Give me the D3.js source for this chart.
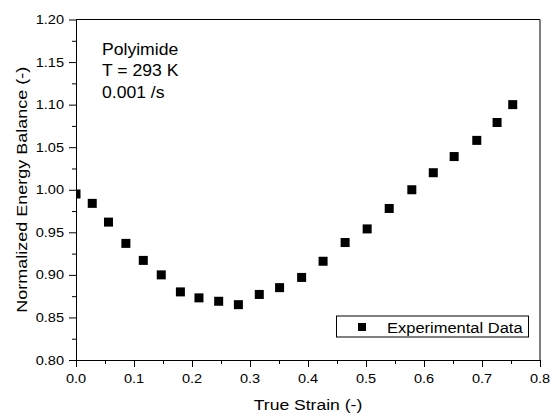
<!DOCTYPE html>
<html>
<head>
<meta charset="utf-8">
<script src="https://cdn.jsdelivr.net/npm/d3@7"></script>
<style>
  body { margin: 0; background: #fff; }
  svg text { font-family: Arial, "Liberation Sans", sans-serif; fill: #000; }
</style>
</head>
<body>
<div id="chart"></div>
<script>
// true strain (-) and normalized energy balance (-)
const strain = [0.000, 0.028, 0.056, 0.086, 0.116, 0.147, 0.180, 0.212, 0.246, 0.280,
  0.316, 0.351, 0.389, 0.426, 0.464, 0.502, 0.540, 0.579, 0.616, 0.652, 0.691, 0.726, 0.753];
const balance = [0.995, 0.984, 0.962, 0.937, 0.917, 0.900, 0.880, 0.873, 0.869, 0.865,
  0.877, 0.885, 0.897, 0.916, 0.938, 0.954, 0.978, 1.000, 1.020, 1.039, 1.058, 1.079, 1.100];
const xTicks = [0, 0.1, 0.2, 0.3, 0.4, 0.5, 0.6, 0.7, 0.8];
const yTicks = [0.80, 0.85, 0.90, 0.95, 1.00, 1.05, 1.10, 1.15, 1.20];
const notes = ['Polyimide', 'T = 293 K', '0.001 /s'];
const seriesName = 'Experimental Data';

const width = 560, height = 415;
const margin = { top: 19.5, right: 20, bottom: 55, left: 76 };
const W = width - margin.left - margin.right;
const H = height - margin.top - margin.bottom;

const x = d3.scaleLinear().domain([0, 0.8]).range([0, W]);
const y = d3.scaleLinear().domain([0.8, 1.2]).range([H, 0]);

const svg = d3.select('#chart').append('svg')
  .attr('width', width).attr('height', height);

const g = svg.append('g').attr('transform', `translate(${margin.left},${margin.top})`);

// the glyphs in the source are wider than Liberation Sans, so stretch them a bit
function label(parent, tx, ty, str, size, sx, anchor, rot) {
  return parent.append('text')
    .attr('transform', `translate(${tx},${ty})${rot ? ' rotate(' + rot + ')' : ''} scale(${sx},1)`)
    .attr('text-anchor', anchor || 'start')
    .attr('font-size', size + 'px')
    .text(str);
}

g.append('clipPath').attr('id', 'plot-clip')
  .append('rect').attr('width', W).attr('height', H);

// points
const pts = strain.map((s, i) => ({ s, b: balance[i] }));
const ms = 9;
g.append('g').attr('clip-path', 'url(#plot-clip)')
  .selectAll('rect').data(pts).join('rect')
  .attr('x', d => x(d.s) - ms / 2)
  .attr('y', d => y(d.b) - ms / 2)
  .attr('width', ms).attr('height', ms)
  .attr('fill', '#000');

// frame top/right
g.append('path')
  .attr('d', `M0,0H${W}V${H}`)
  .attr('fill', 'none').attr('stroke', '#000').attr('stroke-width', 1);

// minor ticks
const xMinor = d3.range(0.05, 0.8, 0.1);
const yMinor = d3.range(0.825, 1.2, 0.05);
g.append('g').attr('transform', `translate(0,${H})`)
  .call(d3.axisBottom(x).tickValues(xMinor).tickSize(4).tickFormat(''))
  .call(a => a.select('.domain').remove());
g.append('g')
  .call(d3.axisLeft(y).tickValues(yMinor).tickSize(4).tickFormat(''))
  .call(a => a.select('.domain').remove());

// major axes
const xAx = g.append('g').attr('transform', `translate(0,${H})`)
  .call(d3.axisBottom(x).tickValues(xTicks).tickSize(7).tickSizeOuter(0).tickFormat(''));
const yAx = g.append('g')
  .call(d3.axisLeft(y).tickValues(yTicks).tickSize(7).tickSizeOuter(0).tickFormat(''));
svg.selectAll('.tick line, .domain').attr('stroke', '#000').attr('stroke-width', 1);

xTicks.forEach(t => label(g, x(t), H + 23, d3.format('.1f')(t), 13, 1.12, 'middle'));
yTicks.forEach(t => label(g, -12, y(t) + 4.5, d3.format('.2f')(t), 13, 1.12, 'end'));

// axis titles
label(g, W / 2, H + 49.5, 'True Strain (-)', 15, 1.17, 'middle');
label(svg, 26.5, margin.top + H / 2, 'Normalized Energy Balance (-)', 15, 1.2, 'middle', -90);

// annotation
notes.forEach((n, i) => label(svg, 102, 54.5 + i * 21.7, n, 16, 1.1));

// legend
const leg = svg.append('g').attr('transform', 'translate(336.5,316)');
leg.append('rect').attr('width', 192).attr('height', 21)
  .attr('fill', '#fff').attr('stroke', '#000').attr('stroke-width', 1);
leg.append('rect').attr('x', 21.5).attr('y', 7).attr('width', 8).attr('height', 8).attr('fill', '#000');
label(leg, 50.5, 16.5, seriesName, 15, 1.1);
</script>
</body>
</html>
